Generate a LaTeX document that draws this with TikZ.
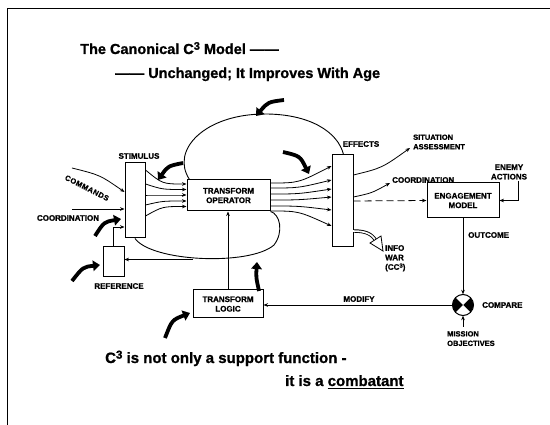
\documentclass[tikz,border=0pt]{standalone}
\usepackage{fontspec}
\setmainfont[BoldFeatures={FakeBold=1}]{Liberation Sans}
\usetikzlibrary{arrows.meta,calc}

\newcommand\thickul[1]{\setbox0\hbox{#1}\rlap{\raisebox{-3.2pt}{\rule{\wd0}{1.3pt}}}\box0}

\begin{document}
\begin{tikzpicture}[x=1pt,y=-1pt,
  blk/.style={draw, line width=1pt, inner sep=0pt, align=center,
    font=\bfseries\fontsize{8}{9.5}\selectfont},
  lbl/.style={inner sep=0pt, align=center, font=\bfseries\fontsize{8}{9.5}\selectfont},
  ttl/.style={inner sep=0pt, anchor=base west, font=\bfseries\fontsize{14.5}{17}\selectfont},
  conn/.style={line width=0.8pt, -{Stealth[length=4.5pt,width=3.6pt]}},
  plain/.style={line width=0.9pt},
  bigarrow/.style={line width=3.8pt, -{Triangle[length=7pt,width=10.5pt]}}
]
\useasboundingbox (0,0) rectangle (550,425);
\fill[white] (0,0) rectangle (550,425);

% frame
\draw[line width=1pt] (7,425) -- (7,9) -- (550,9);

% headings
\node[ttl] (t1) at (80,54) {The Canonical C\raisebox{0.55ex}{\fontsize{11}{11}\selectfont 3} Model ——};
\node[ttl] (t2) at (115,78) {—— Unchanged; It Improves With Age};

% blocks
\node[blk, minimum width=20pt, minimum height=75pt] (stim) at (135,200.5) {};
\node[blk, minimum width=83pt, minimum height=31pt] (op) at (228.5,195.5) {TRANSFORM\\OPERATOR};
\node[blk, minimum width=21pt, minimum height=92pt] (eff) at (342.5,201) {};
\node[blk, minimum width=21pt, minimum height=30pt] (ref) at (113.5,262) {};
\node[blk, minimum width=70pt, minimum height=28pt] (logic) at (228,304) {TRANSFORM\\LOGIC};
\node[blk, minimum width=72pt, minimum height=35pt] (eng) at (463,200.5) {ENGAGEMENT\\MODEL};

% comparator
\coordinate (cmp) at (463,305);
\begin{scope}
  \clip (cmp) circle[radius=10.5];
  \fill[black] (cmp) circle[radius=10.5];
  \fill[white] (cmp) -- ++(-14,-14) -- ++(28,0) -- cycle;
  \fill[white] (cmp) -- ++(-14,14) -- ++(28,0) -- cycle;
\end{scope}
\draw[line width=1pt] (cmp) circle[radius=10.5];
\node[circle, minimum size=21pt, inner sep=0pt] (cmpn) at (cmp) {};

% labels
\node[lbl] (lStim) at (139,156) {STIMULUS};
\node[lbl, rotate=-27, font=\bfseries\fontsize{7.5}{9}\selectfont\addfontfeature{LetterSpace=6}] (lCmd) at (87,188) {COMMANDS};
\node[lbl] (lCoordL) at (68,218) {COORDINATION};
\node[lbl] (lRef) at (119,286) {REFERENCE};
\node[lbl] (lEff) at (361,144) {EFFECTS};
\node[lbl, anchor=west, align=left, font=\bfseries\fontsize{7.5}{9.5}\selectfont] (lSA) at (413,142) {SITUATION\\ASSESSMENT};
\node[lbl, anchor=west] (lCoordR) at (392,180) {COORDINATION};
\node[lbl] (lEnemy) at (509,172) {ENEMY\\ACTIONS};
\node[lbl, anchor=west] (lOut) at (468,235) {OUTCOME};
\node[lbl] (lMod) at (359,299) {MODIFY};
\node[lbl, anchor=north west, align=left] (lInfo) at (385,245) {INFO\\WAR\\(CC\raisebox{0.5ex}{\fontsize{6}{6}\selectfont 3})};
\node[lbl, anchor=west] (lCmp) at (482,305) {COMPARE};
\node[lbl, anchor=north west, align=left, font=\bfseries\fontsize{7.5}{9.5}\selectfont] (lMis) at (447,331) {MISSION\\OBJECTIVES};

% closing text
\node[ttl, font=\bfseries\fontsize{15}{17}\selectfont] (b1) at (105,363) {C\raisebox{0.55ex}{\fontsize{11.5}{11.5}\selectfont 3} is not only a support function -};
\node[ttl, font=\bfseries\fontsize{15}{17}\selectfont] (b2) at (285,386) {it is a \thickul{combatant}};

% inputs to the stimulus block
\coordinate (cmdS) at (72,168);
\coordinate (crdS) at (72,209);
\draw[conn] (cmdS) .. controls (100,175) .. ($(stim.west)+(0,-8.5)$);
\draw[conn] (crdS) -- (crdS -| stim.west);

% stimulus -> transform operator
\foreach \a/\b in {-30.5/-11.5, -16.5/-6, -5.5/-0.5, 4.5/5.5, 15.5/11}{
  \draw[conn] ($(stim.east)+(0,\a)$) .. controls ($(op.west)+(-24,\b)$) .. ($(op.west)+(0,\b)$);
}

% transform operator -> effects
\foreach \a/\b in {-12.5/-35, -7.5/-21, -1.5/-12, 4.5/-4, 10.5/9, 15.5/25}{
  \draw[conn] ($(op.east)+(0,\a)$) .. controls ($(op.east)+(28,\a)$) .. ($(eff.west)+(0,\b)$);
}

% feedback loops
\draw[plain] ($(op.north west)+(3,0)$) .. controls (170,150) and (205,114) .. (265,114)
  .. controls (310,114) and (338,132) .. ($(eff.north)+(1,0)$);
\draw[plain] (stim.south) .. controls (152,262) and (250,266) .. (274,245)
  .. controls (284,232) and (280,214) .. (op.south east);
\coordinate (lp) at (193,259.5);
\draw[conn] (lp) -- (lp -| ref.east);
\draw[conn] (ref.north) |- ($(stim.west)+(0,26.5)$);

% transform logic
\draw[conn] (logic.north) -- (logic.north |- op.south);
\draw[conn] (cmpn.west) -- (cmpn.west -| logic.east);

% effects outputs
\coordinate (saT) at (410,148);
\coordinate (crT) at (390,183);
\draw[conn] ($(eff.east)+(0,-26)$) .. controls (382,168) .. (saT);
\draw[conn] ($(eff.east)+(0,-4)$) .. controls (372,193) .. (crT);
\draw[conn, dash pattern=on 7pt off 4pt] (eff.east) -- (eng.west);

% information warfare (hollow arrow)
\draw[line width=3.4pt] ($(eff.east)+(0,30)$) .. controls (366,231) and (372,234) .. (376,241);
\draw[white, line width=1.6pt] ($(eff.east)+(-1,30)$) .. controls (366,231) and (372,234) .. (376,241);
\filldraw[fill=white, draw=black, line width=0.8pt] (383,251) -- (370,243) -- (381,236) -- cycle;

% engagement model
\coordinate (enT) at (518,181);
\draw[conn] (enT) |- (eng.east);
\draw[conn] (eng.south) -- (cmpn.north);
\coordinate (misT) at (463,327);
\draw[conn] (misT) -- (cmpn.south);

% emphasis arrows
\draw[bigarrow] (284,100) .. controls (268,102) .. (256,116);
\draw[bigarrow] (183,163) .. controls (168,166) .. (158,180);
\draw[bigarrow] (283,152) .. controls (300,156) .. (309,174);
\draw[bigarrow] (95,236) .. controls (104,222) .. (121,219);
\draw[bigarrow] (72,281) .. controls (83,267) .. (100,265);
\draw[bigarrow] (259,291) .. controls (256,277) .. (257,262);
\draw[bigarrow] (165,338) .. controls (172,320) .. (190,313);
\end{tikzpicture}
\end{document}
